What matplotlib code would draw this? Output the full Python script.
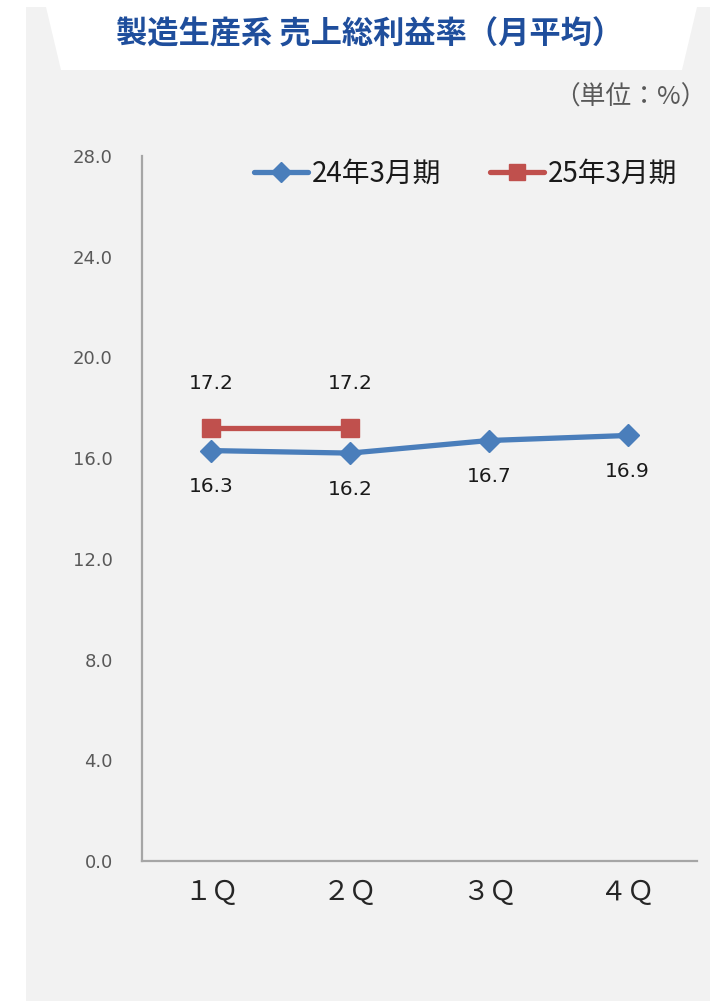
import matplotlib
matplotlib.use("Agg")
from matplotlib import pyplot as plt
from matplotlib.patches import Polygon, Rectangle

plt.rcParams["font.family"] = ["DejaVu Sans", "Noto Sans CJK JP"]

# data
quarters = ["１Ｑ", "２Ｑ", "３Ｑ", "４Ｑ"]
fy24 = [16.3, 16.2, 16.7, 16.9]
fy25 = [17.2, 17.2]
series_names = ["24年3月期", "25年3月期"]
yticks = [0, 4, 8, 12, 16, 20, 24, 28]

BLUE = "#4a7ebb"
RED = "#c0504d"
GRAY_TXT = "#595959"
JP = ["Noto Sans CJK JP", "DejaVu Sans"]

W, H = 710, 1001
fig = plt.figure(figsize=(W / 100, H / 100), dpi=100)
fig.patch.set_facecolor("white")

# background panel and title tab (in pixel-ish figure coords)
def fx(px):
    return px / W

def fy(py):
    return 1 - py / H

fig.patches.append(Rectangle((fx(26), 0), 1 - fx(26), fy(7), transform=fig.transFigure,
                             facecolor="#f2f2f2", edgecolor="none", zorder=0))
fig.patches.append(Polygon([(fx(46), fy(7)), (fx(697), fy(7)), (fx(682), fy(70)), (fx(61), fy(70))],
                           closed=True, transform=fig.transFigure,
                           facecolor="white", edgecolor="none", zorder=0.5))

fig.text(fx(370), fy(34), "製造生産系 売上総利益率（月平均）", ha="center", va="center",
         fontsize=22.5, fontweight="bold", color="#1f4e9c", family=JP)
fig.text(fx(707), fy(98), "（単位：%）", ha="right", va="center",
         fontsize=18.5, color=GRAY_TXT, family=JP)

ax = fig.add_axes([fx(142), fy(861), fx(697) - fx(142), fy(156) - fy(861)])
ax.set_facecolor("none")
ax.set_zorder(2)

x = list(range(len(quarters)))
ax.plot(x, fy24, color=BLUE, lw=3.8, marker="D", ms=11, solid_capstyle="round",
        label=series_names[0], zorder=3)
ax.plot(x[:len(fy25)], fy25, color=RED, lw=3.8, marker="s", ms=13.5, solid_capstyle="round",
        label=series_names[1], zorder=3)

for i, v in enumerate(fy24):
    ax.annotate(f"{v:.1f}", (i, v), xytext=(0, -36), textcoords="offset pixels",
                ha="center", va="center", fontsize=14.5, color="#1a1a1a")
for i, v in enumerate(fy25):
    ax.annotate(f"{v:.1f}", (i, v), xytext=(0, 44), textcoords="offset pixels",
                ha="center", va="center", fontsize=14.5, color="#1a1a1a")

ax.set_xlim(-0.5, len(quarters) - 0.5)
ax.set_ylim(0, 28)
ax.set_yticks(yticks)
ax.set_yticklabels([f"{t:.1f}" for t in yticks], fontsize=13, color=GRAY_TXT,
                   family="DejaVu Sans")
ax.set_xticks(x)
ax.set_xticklabels(quarters, fontsize=19.5, color="#262626", family=JP)
ax.tick_params(axis="both", length=0)
ax.tick_params(axis="y", pad=21)
ax.tick_params(axis="x", pad=13)

for s in ["top", "right"]:
    ax.spines[s].set_visible(False)
for s in ["left", "bottom"]:
    ax.spines[s].set_color("#a6a6a6")
    ax.spines[s].set_linewidth(1.6)

leg = ax.legend(loc="upper right", bbox_to_anchor=(1.01, 1.032), ncol=2, frameon=False,
                prop={"family": JP, "size": 20}, handlelength=1.95, columnspacing=1.75,
                handletextpad=0.15, markerscale=0.9)
for t in leg.get_texts():
    t.set_color("#1a1a1a")

fig.savefig("out.png", dpi=100, facecolor=fig.get_facecolor())
